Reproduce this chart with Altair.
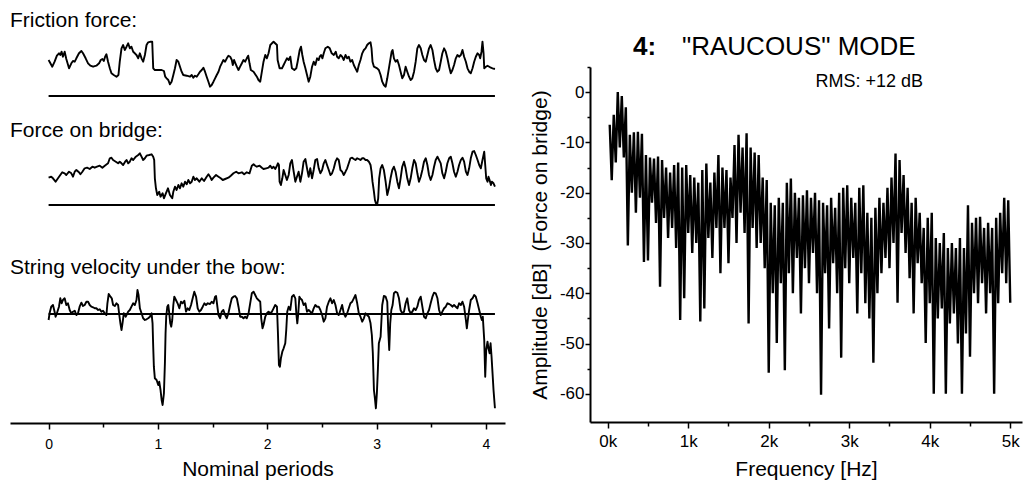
import altair as alt
import pandas as pd

FONT = "Liberation Sans"

# ---------------- left panel: time traces (t in nominal periods, amplitude in arbitrary units) -------------
FRICTION = [
(0.000,36.0),(0.009,34.3),(0.034,29.3),(0.055,34.3),(0.076,40.3),(0.095,42.7),(0.107,41.0),(0.119,44.3),(0.131,39.3),(0.147,44.3),
(0.162,37.0),(0.187,27.7),(0.208,32.7),(0.223,35.0),(0.239,34.3),(0.254,37.7),(0.278,42.7),(0.300,45.0),(0.315,42.7),(0.339,37.7),
(0.361,32.7),(0.382,30.3),(0.407,29.3),(0.437,30.3),(0.462,32.7),(0.477,36.0),(0.492,37.0),(0.505,35.0),(0.517,39.3),(0.529,41.7),
(0.544,34.3),(0.560,27.7),(0.575,22.7),(0.596,21.0),(0.621,19.3),(0.639,21.0),(0.651,34.3),(0.667,47.7),(0.682,51.0),(0.697,46.0),
(0.713,49.3),(0.728,52.7),(0.743,47.7),(0.758,49.3),(0.774,44.3),(0.789,42.7),(0.804,41.0),(0.820,37.7),(0.835,42.7),(0.850,37.7),
(0.865,34.3),(0.881,41.0),(0.896,51.0),(0.911,53.7),(0.933,54.3),(0.948,54.3),(0.957,27.7),(0.972,26.0),(1.003,26.0),(1.034,26.0),
(1.055,25.0),(1.067,19.3),(1.080,17.7),(1.095,16.0),(1.110,11.7),(1.125,14.3),(1.141,21.0),(1.156,27.7),(1.171,36.0),(1.187,34.3),
(1.202,29.3),(1.217,24.3),(1.232,21.0),(1.263,20.3),(1.294,19.3),(1.309,21.0),(1.324,18.3),(1.339,20.3),(1.355,19.3),(1.370,21.7),
(1.385,24.3),(1.401,26.0),(1.416,28.3),(1.431,24.3),(1.446,19.3),(1.462,14.3),(1.477,9.3),(1.492,11.0),(1.508,14.3),(1.523,17.7),
(1.538,21.0),(1.554,24.3),(1.569,29.3),(1.584,32.7),(1.599,36.0),(1.615,34.3),(1.630,37.7),(1.645,40.3),(1.661,39.3),(1.676,36.0),
(1.685,31.0),(1.697,36.0),(1.709,32.7),(1.722,29.3),(1.737,26.0),(1.752,29.3),(1.768,32.7),(1.783,36.0),(1.798,34.3),(1.813,37.7),
(1.826,40.3),(1.838,32.7),(1.850,26.0),(1.875,24.3),(1.905,19.3),(1.920,16.0),(1.936,14.3),(1.951,24.3),(1.966,34.3),(1.982,41.0),
(1.997,37.7),(2.012,42.7),(2.028,51.0),(2.043,52.7),(2.058,54.3),(2.089,51.0),(2.095,36.0),(2.113,27.7),(2.135,27.7),(2.150,31.0),
(2.165,34.3),(2.180,37.7),(2.196,36.0),(2.211,39.3),(2.226,27.7),(2.248,26.0),(2.266,27.7),(2.278,34.3),(2.297,46.0),(2.309,49.3),
(2.321,41.0),(2.333,34.3),(2.349,27.7),(2.364,21.0),(2.379,14.3),(2.394,19.3),(2.410,29.3),(2.425,34.3),(2.440,31.0),(2.456,37.7),
(2.471,36.0),(2.480,39.3),(2.492,41.0),(2.505,37.7),(2.517,42.7),(2.532,47.7),(2.554,49.3),(2.572,47.7),(2.590,42.7),(2.609,41.0),
(2.627,44.3),(2.639,39.3),(2.654,37.7),(2.670,41.0),(2.685,39.3),(2.700,36.0),(2.716,41.0),(2.731,37.7),(2.746,39.3),(2.761,34.3),
(2.777,36.0),(2.792,31.0),(2.807,27.7),(2.823,24.3),(2.838,31.0),(2.853,36.0),(2.869,42.7),(2.884,46.0),(2.899,47.7),(2.914,51.0),
(2.930,52.7),(2.945,53.7),(2.954,47.7),(2.963,34.3),(2.976,29.3),(3.006,27.7),(3.021,26.0),(3.037,21.0),(3.052,14.3),(3.067,11.0),
(3.083,9.3),(3.098,17.7),(3.113,27.7),(3.128,37.7),(3.138,44.3),(3.147,46.0),(3.159,37.7),(3.174,34.3),(3.190,36.0),(3.205,31.0),
(3.220,24.3),(3.235,17.7),(3.251,21.0),(3.266,29.3),(3.281,24.3),(3.297,19.3),(3.312,16.0),(3.327,17.7),(3.343,24.3),(3.358,34.3),
(3.373,47.7),(3.388,51.0),(3.404,47.7),(3.419,41.0),(3.434,36.0),(3.450,34.3),(3.465,41.0),(3.480,47.7),(3.495,51.0),(3.511,46.0),
(3.526,36.0),(3.541,27.7),(3.557,24.3),(3.572,26.0),(3.587,34.3),(3.602,42.7),(3.618,47.7),(3.633,44.3),(3.648,37.7),(3.664,29.3),
(3.679,22.7),(3.694,26.0),(3.709,31.0),(3.725,37.7),(3.740,41.0),(3.755,39.3),(3.771,41.0),(3.786,46.0),(3.801,39.3),(3.817,34.3),
(3.832,27.7),(3.847,24.3),(3.862,22.7),(3.878,27.7),(3.893,34.3),(3.908,39.3),(3.924,42.7),(3.939,41.0),(3.948,37.7),(3.960,44.3),
(3.969,54.3),(3.979,42.7),(3.985,27.7),(4.000,29.3),(4.015,30.3),(4.031,29.3),(4.046,28.3),(4.061,27.7),(4.083,27.0)]

BRIDGE = [
(0.000,27.3),(0.024,28.3),(0.040,26.7),(0.064,23.3),(0.086,26.7),(0.107,30.0),(0.125,32.7),(0.147,31.7),(0.162,30.0),(0.187,33.3),
(0.208,31.7),(0.223,28.3),(0.239,33.3),(0.254,35.0),(0.278,32.7),(0.291,30.7),(0.309,33.3),(0.330,36.7),(0.352,37.3),(0.376,36.0),
(0.401,38.3),(0.422,37.3),(0.443,38.3),(0.468,39.3),(0.492,37.3),(0.514,39.3),(0.544,41.7),(0.560,46.7),(0.575,47.3),(0.590,45.0),
(0.615,43.3),(0.636,41.7),(0.651,43.3),(0.667,41.7),(0.682,40.0),(0.700,43.3),(0.713,45.0),(0.728,41.7),(0.743,43.3),(0.758,46.7),
(0.774,45.0),(0.798,48.3),(0.820,50.0),(0.835,51.7),(0.850,48.3),(0.865,45.0),(0.881,46.7),(0.896,49.3),(0.920,50.0),(0.942,50.7),
(0.957,48.3),(0.966,45.0),(0.972,26.7),(0.982,16.7),(0.994,10.0),(1.012,13.3),(1.024,8.3),(1.043,11.7),(1.055,6.7),(1.073,11.7),
(1.092,16.7),(1.110,10.0),(1.131,6.7),(1.141,13.3),(1.156,18.3),(1.171,15.0),(1.187,20.0),(1.202,16.7),(1.217,21.7),(1.232,18.3),
(1.248,23.3),(1.263,20.7),(1.278,25.0),(1.294,21.7),(1.309,23.3),(1.324,28.3),(1.339,25.0),(1.355,26.7),(1.379,23.3),(1.401,26.7),
(1.422,24.0),(1.446,28.3),(1.462,30.7),(1.477,28.3),(1.492,25.0),(1.508,27.3),(1.532,30.0),(1.554,28.3),(1.575,26.7),(1.593,25.0),
(1.615,26.0),(1.645,27.3),(1.667,29.3),(1.691,31.7),(1.716,33.3),(1.737,31.7),(1.768,32.7),(1.789,30.7),(1.813,32.7),(1.838,31.7),
(1.859,39.3),(1.875,40.7),(1.890,39.3),(1.905,38.3),(1.930,39.3),(1.951,37.3),(1.966,36.0),(1.991,36.7),(2.012,37.3),(2.028,39.3),
(2.043,36.7),(2.058,38.3),(2.073,36.0),(2.089,39.3),(2.098,41.7),(2.107,40.0),(2.113,23.3),(2.125,20.0),(2.138,26.7),(2.150,35.0),
(2.165,30.0),(2.180,25.0),(2.196,30.0),(2.211,41.7),(2.226,45.0),(2.242,33.3),(2.257,23.3),(2.272,28.3),(2.287,33.3),(2.303,23.3),
(2.318,31.7),(2.333,43.3),(2.349,46.0),(2.364,36.7),(2.379,28.3),(2.394,36.7),(2.410,26.7),(2.425,35.0),(2.440,45.0),(2.456,46.0),
(2.471,36.7),(2.486,31.7),(2.502,35.0),(2.517,41.7),(2.532,45.0),(2.547,40.0),(2.563,35.0),(2.578,30.0),(2.593,31.7),(2.609,36.7),
(2.624,43.3),(2.639,46.7),(2.654,45.0),(2.670,35.0),(2.685,33.3),(2.700,30.0),(2.716,33.3),(2.731,36.7),(2.746,41.7),(2.761,46.7),
(2.777,47.3),(2.792,46.0),(2.807,45.0),(2.823,46.7),(2.838,46.0),(2.853,45.0),(2.869,46.7),(2.884,46.7),(2.899,45.0),(2.914,45.0),
(2.930,43.3),(2.945,40.0),(2.954,33.3),(2.963,23.3),(2.976,13.3),(2.985,5.0),(2.994,1.7),(3.006,0.7),(3.015,6.7),(3.024,26.7),
(3.037,36.7),(3.052,40.0),(3.067,35.0),(3.083,23.3),(3.098,10.0),(3.113,16.7),(3.128,26.7),(3.144,35.0),(3.159,38.3),(3.174,33.3),
(3.190,23.3),(3.205,16.7),(3.220,26.7),(3.235,38.3),(3.251,43.3),(3.266,36.7),(3.281,26.7),(3.297,20.0),(3.312,26.7),(3.327,36.7),
(3.343,45.0),(3.358,41.7),(3.373,31.7),(3.388,23.3),(3.404,28.3),(3.419,35.0),(3.434,43.3),(3.450,46.7),(3.465,40.0),(3.480,30.0),
(3.495,25.0),(3.511,30.0),(3.526,38.3),(3.541,45.0),(3.557,48.3),(3.587,41.7),(3.602,31.7),(3.618,26.7),(3.633,33.3),(3.648,41.7),
(3.664,46.7),(3.679,48.3),(3.694,41.7),(3.709,33.3),(3.725,28.3),(3.740,33.3),(3.755,40.0),(3.771,45.0),(3.786,47.3),(3.801,43.3),
(3.817,33.3),(3.832,30.0),(3.847,36.7),(3.862,46.7),(3.878,53.3),(3.893,54.0),(3.908,50.0),(3.924,45.0),(3.939,40.0),(3.954,36.7),
(3.969,45.0),(3.985,53.3),(3.994,40.0),(4.003,26.7),(4.015,23.3),(4.024,28.3),(4.034,25.0),(4.046,20.0),(4.055,23.3),(4.070,21.7),
(4.083,18.3)]

VELOCITY = [
(0.000,-6.0),(0.009,0.7),(0.024,7.3),(0.040,9.0),(0.055,2.3),(0.064,-2.7),(0.076,0.7),(0.095,7.3),(0.107,15.7),(0.119,10.7),
(0.131,14.0),(0.147,15.7),(0.162,9.0),(0.177,10.7),(0.193,4.0),(0.208,0.7),(0.223,2.3),(0.239,3.3),(0.254,-1.0),(0.269,0.7),
(0.284,7.3),(0.300,11.3),(0.315,8.0),(0.330,9.0),(0.346,12.3),(0.361,12.3),(0.376,9.0),(0.391,7.3),(0.407,6.7),(0.422,5.7),
(0.437,5.7),(0.453,4.0),(0.468,4.7),(0.483,2.3),(0.498,3.3),(0.514,0.7),(0.529,-1.0),(0.538,10.7),(0.550,20.0),(0.566,17.3),
(0.578,15.7),(0.590,9.0),(0.606,8.0),(0.621,10.7),(0.636,9.0),(0.645,0.7),(0.657,-9.3),(0.667,-16.0),(0.676,-9.3),(0.688,0.7),
(0.706,-2.7),(0.728,2.3),(0.743,4.0),(0.758,7.3),(0.774,10.7),(0.789,9.0),(0.804,14.0),(0.813,24.0),(0.823,19.0),(0.835,5.7),
(0.850,0.7),(0.865,-4.3),(0.881,-6.0),(0.896,-5.3),(0.911,-4.3),(0.927,-2.7),(0.942,0.7),(0.951,-9.3),(0.957,-32.7),(0.963,-52.7),
(0.972,-64.3),(0.988,-66.0),(1.003,-71.0),(1.012,-67.7),(1.024,-76.0),(1.034,-86.0),(1.043,-91.0),(1.055,-79.3),(1.064,-49.3),(1.070,-19.3),
(1.076,-2.7),(1.086,7.3),(1.095,9.0),(1.104,0.7),(1.113,-9.3),(1.122,-12.7),(1.131,-6.0),(1.141,9.0),(1.150,17.3),(1.165,14.0),
(1.180,10.7),(1.196,5.7),(1.211,12.3),(1.226,10.7),(1.242,13.3),(1.257,2.3),(1.272,5.7),(1.287,4.0),(1.303,9.0),(1.318,15.7),
(1.333,22.3),(1.349,17.3),(1.364,5.7),(1.379,2.3),(1.394,4.0),(1.410,7.3),(1.425,10.7),(1.440,9.0),(1.456,10.7),(1.477,10.0),
(1.492,12.3),(1.508,10.7),(1.523,17.3),(1.532,18.0),(1.544,7.3),(1.554,-1.0),(1.569,-4.3),(1.584,2.3),(1.599,4.0),(1.615,-1.0),
(1.630,-4.3),(1.645,0.7),(1.661,9.0),(1.676,15.7),(1.691,17.3),(1.706,18.0),(1.722,15.7),(1.737,7.3),(1.752,-2.7),(1.768,-2.7),
(1.783,-4.3),(1.798,-2.7),(1.813,-4.3),(1.829,0.7),(1.844,10.7),(1.859,20.7),(1.875,22.3),(1.890,19.0),(1.905,15.7),(1.920,14.0),
(1.936,12.3),(1.945,-4.3),(1.957,-14.3),(1.966,-11.0),(1.982,-2.7),(1.997,0.7),(2.012,2.3),(2.028,0.7),(2.043,2.3),(2.058,5.7),
(2.073,9.0),(2.089,7.3),(2.098,-19.3),(2.107,-51.0),(2.116,-52.7),(2.125,-44.3),(2.138,-37.7),(2.150,-34.3),(2.165,-29.3),(2.174,-16.0),
(2.183,2.3),(2.196,7.3),(2.211,4.0),(2.226,17.3),(2.242,19.0),(2.257,15.7),(2.266,0.7),(2.275,-9.3),(2.284,0.7),(2.294,17.3),
(2.303,15.7),(2.318,14.0),(2.333,9.0),(2.349,10.7),(2.364,2.3),(2.379,4.0),(2.394,2.3),(2.410,0.7),(2.425,5.7),(2.440,9.0),
(2.456,7.3),(2.471,7.3),(2.486,4.0),(2.502,-1.0),(2.517,-7.7),(2.532,-4.3),(2.547,7.3),(2.563,12.3),(2.578,15.7),(2.593,10.7),
(2.609,14.0),(2.624,9.0),(2.639,0.7),(2.654,-1.0),(2.670,4.0),(2.685,9.0),(2.700,0.7),(2.716,-2.7),(2.731,0.7),(2.746,5.7),
(2.761,10.7),(2.777,12.3),(2.792,15.7),(2.807,19.0),(2.823,10.7),(2.838,0.7),(2.853,-2.7),(2.869,-7.7),(2.884,-4.3),(2.899,0.7),
(2.914,-1.0),(2.930,-2.7),(2.945,-9.3),(2.957,-21.0),(2.966,-39.3),(2.976,-76.0),(2.985,-84.3),(2.994,-94.3),(3.003,-79.3),(3.012,-56.0),
(3.021,-29.3),(3.037,-22.7),(3.052,9.0),(3.067,18.0),(3.083,17.3),(3.098,12.3),(3.107,-16.0),(3.116,-36.0),(3.125,-9.3),(3.135,4.0),
(3.147,9.0),(3.159,20.7),(3.174,22.3),(3.190,21.3),(3.205,15.7),(3.220,4.0),(3.235,0.7),(3.251,2.3),(3.266,10.7),(3.281,15.7),
(3.297,4.0),(3.312,0.7),(3.327,2.3),(3.343,5.7),(3.358,4.0),(3.373,7.3),(3.388,14.0),(3.404,17.3),(3.419,7.3),(3.434,-2.7),
(3.450,-4.3),(3.465,0.7),(3.480,4.0),(3.495,10.7),(3.511,17.3),(3.526,21.3),(3.541,20.7),(3.557,15.7),(3.572,4.0),(3.587,-1.0),
(3.602,2.3),(3.618,5.7),(3.633,7.3),(3.648,10.7),(3.664,10.0),(3.679,9.0),(3.694,7.3),(3.709,9.0),(3.725,7.3),(3.740,5.7),
(3.755,10.7),(3.771,9.0),(3.786,12.3),(3.801,7.3),(3.817,-6.0),(3.826,-14.3),(3.835,-6.0),(3.847,4.0),(3.862,14.0),(3.878,15.7),
(3.893,19.0),(3.908,17.3),(3.924,10.7),(3.939,4.0),(3.954,-2.7),(3.963,-6.0),(3.972,-2.7),(3.985,-26.0),(3.994,-62.7),(4.003,-36.0),
(4.015,-27.7),(4.024,-34.3),(4.034,-39.3),(4.043,-29.3),(4.052,-42.7),(4.061,-59.3),(4.070,-76.0),(4.083,-94.3)]

TRACE_START = 0.0
TRACE_END = 4.083
PERIOD_TICKS = [0, 1, 2, 3, 4]
PERIOD_MINOR = [0.5, 1.5, 2.5, 3.5]
TRACE_LABELS = ["Friction force:", "Force on bridge:", "String velocity under the bow:"]

# ---------------- right panel: spectrum (25 Hz bins, alternating local max / min readings) ----------------
SPEC_BIN_HZ = 25
SPEC_DB = [
-6.5,-17.5, -4.5,-14.0, 0.0,-11.0, -0.8,-13.0, -3.0,-30.5, -8.5,-20.0, -8.0,-24.0, -7.9,-21.0, -8.3,-33.8, -12.5,-33.5,
-13.0,-22.0, -13.2,-26.0, -12.8,-38.7, -13.5,-25.0, -15.0,-29.0, -16.0,-27.0, -14.5,-31.0, -14.0,-45.3, -15.0,-41.0, -14.5,-28.0,
-16.5,-32.0, -17.0,-30.0, -18.0,-45.6, -15.5,-43.0, -14.2,-29.0, -18.0,-33.0, -16.0,-27.0, -12.5,-36.0, -15.0,-27.0, -15.5,-34.0,
-17.0,-25.0, -10.5,-30.0, -8.5,-24.0, -11.0,-28.0, -8.2,-46.0, -11.0,-27.0, -12.0,-31.0, -12.5,-30.0, -17.0,-35.0, -17.5,-55.8,
-22.0,-40.0, -22.5,-49.9, -21.0,-38.0, -22.0,-55.3, -18.0,-36.0, -17.2,-40.0, -20.0,-33.0, -21.0,-44.0, -20.5,-35.0, -19.5,-38.0,
-21.0,-32.0, -20.0,-40.0, -21.5,-60.2, -22.0,-36.0, -22.5,-47.0, -21.0,-34.0, -23.0,-40.0, -20.0,-52.8, -19.0,-35.0, -18.5,-38.0,
-21.0,-33.0, -22.0,-44.0, -19.0,-36.0, -18.5,-42.0, -24.0,-45.0, -25.0,-53.8, -23.0,-40.0, -21.0,-36.0, -22.0,-33.0, -19.0,-35.0,
-17.0,-30.0, -12.2,-41.9, -13.5,-28.0, -16.5,-32.0, -19.0,-37.0, -22.0,-44.0, -21.0,-34.0, -24.0,-38.0, -27.0,-49.9, -25.0,-42.0,
-24.0,-60.0, -29.0,-45.0, -30.0,-43.0, -28.0,-60.0, -31.0,-46.0, -30.0,-44.0, -31.0,-50.0, -29.0,-60.0, -31.0,-48.0, -22.5,-52.6,
-26.0,-40.0, -25.0,-42.0, -24.8,-38.0, -27.0,-44.0, -26.0,-40.0, -27.0,-60.0, -25.0,-42.0, -24.0,-36.0, -21.0,-38.0, -21.5,-41.9]

FREQ_TICKS = [0, 1000, 2000, 3000, 4000, 5000]
FREQ_MINOR = [500, 1500, 2500, 3500, 4500]
DB_TICKS = [0, -10, -20, -30, -40, -50, -60]
DB_MINOR = [5, -5, -15, -25, -35, -45, -55]

# ---------------- scales (domain -> pixel range inside the 1026x485 canvas) ----------------
LX = alt.Scale(domain=[-0.353, 4.175], range=[10, 505], nice=False, zero=False)
FY = alt.Scale(domain=[0, 61], range=[96, 35], nice=False, zero=False)
BY = alt.Scale(domain=[0, 60], range=[205, 145], nice=False, zero=False)
VY = alt.Scale(domain=[-100, 34], range=[414, 280], nice=False, zero=False)
RX = alt.Scale(domain=[-220, 5146], range=[590, 1022], nice=False, zero=False)
RY = alt.Scale(domain=[-65.6, 5], range=[422, 67], nice=False, zero=False)

AX = dict(domainColor="black", tickColor="black", labelColor="black", titleColor="black",
          labelFont=FONT, titleFont=FONT, grid=False, labelFlush=False, labelOverlap=False,
          titleFontWeight="normal")


def pairs_df(pairs):
    return pd.DataFrame({"i": list(range(len(pairs))),
                         "t": [p[0] for p in pairs],
                         "v": [p[1] for p in pairs]})


def trace(pairs, yscale):
    return alt.Chart(pairs_df(pairs)).mark_line(color="black", strokeWidth=1.9,
                                                strokeJoin="round").encode(
        x=alt.X("t:Q", scale=LX, axis=None),
        y=alt.Y("v:Q", scale=yscale, axis=None),
        order=alt.Order("i:Q"),
    )


def baseline(yscale):
    df = pd.DataFrame({"t0": [TRACE_START], "t1": [TRACE_END], "v": [0]})
    return alt.Chart(df).mark_rule(color="black", strokeWidth=2).encode(
        x=alt.X("t0:Q", scale=LX, axis=None), x2="t1:Q",
        y=alt.Y("v:Q", scale=yscale, axis=None),
    )


one = pd.DataFrame({"a": [0]})


def label(text, x, y, size=21, weight="normal", align="left"):
    return alt.Chart(one).mark_text(text=text, font=FONT, fontSize=size, fontWeight=weight,
                                     align=align, baseline="alphabetic", color="black").encode(
        x=alt.value(x), y=alt.value(y))


left_axis = alt.Chart(pd.DataFrame({"t": PERIOD_TICKS})).mark_point(opacity=0).encode(
    x=alt.X("t:Q", scale=LX, axis=alt.Axis(
        orient="bottom", offset=-62, values=PERIOD_TICKS, labelExpr="'' + datum.value",
        title="Nominal periods", tickSize=6, tickWidth=1.5, domainWidth=2,
        labelFontSize=14, labelPadding=8, titleFontSize=21, titlePadding=7, **AX)))

left_minor = alt.Chart(pd.DataFrame({"t": PERIOD_MINOR})).mark_point(opacity=0).encode(
    x=alt.X("t:Q", scale=LX, axis=alt.Axis(
        orient="bottom", offset=-62, values=PERIOD_MINOR, labels=False, domain=False,
        tickSize=4, tickWidth=1.5, title=None, **AX)))

spec_df = pd.DataFrame({"i": list(range(len(SPEC_DB))),
                        "f": [SPEC_BIN_HZ * (k + 1) for k in range(len(SPEC_DB))],
                        "db": SPEC_DB})

spectrum = alt.Chart(spec_df).mark_line(color="black", strokeWidth=2.4, strokeJoin="miter").encode(
    x=alt.X("f:Q", scale=RX, axis=alt.Axis(
        orient="bottom", offset=-63, values=FREQ_TICKS, labelExpr="(datum.value / 1000) + 'k'",
        title="Frequency [Hz]", tickSize=6, tickWidth=1.5, domainWidth=2,
        labelFontSize=17, labelPadding=5, titleFontSize=21, titlePadding=9, **AX)),
    y=alt.Y("db:Q", scale=RY, axis=alt.Axis(
        orient="left", offset=-590, values=DB_TICKS, labelExpr="'' + datum.value",
        title="Amplitude [dB]\u00a0\u00a0(Force on bridge)", tickSize=5, tickWidth=1.5, domainWidth=2,
        labelFontSize=17, labelPadding=1, titleFontSize=21, titlePadding=9, **AX)),
    order=alt.Order("i:Q"),
)

minor_x = alt.Chart(pd.DataFrame({"f": FREQ_MINOR})).mark_point(opacity=0).encode(
    x=alt.X("f:Q", scale=RX, axis=alt.Axis(
        orient="bottom", offset=-63, values=FREQ_MINOR, labels=False, domain=False,
        tickSize=4, tickWidth=1.5, title=None, **AX)))

minor_y = alt.Chart(pd.DataFrame({"db": DB_MINOR})).mark_point(opacity=0).encode(
    y=alt.Y("db:Q", scale=RY, axis=alt.Axis(
        orient="left", offset=-590, values=DB_MINOR, labels=False, domain=False,
        tickSize=3, tickWidth=1.5, title=None, **AX)))

layers = [
    trace(FRICTION, FY), baseline(FY),
    trace(BRIDGE, BY), baseline(BY),
    trace(VELOCITY, VY), baseline(VY),
    left_axis, left_minor,
    label(TRACE_LABELS[0], 10, 27), label(TRACE_LABELS[1], 10, 137), label(TRACE_LABELS[2], 10, 274),
    spectrum, minor_x, minor_y,
    label("4:", 633, 55, size=26, weight="bold"),
    label("\"RAUCOUS\" MODE", 682, 55, size=26),
    label("RMS: +12 dB", 923, 87, size=18, align="right"),
]

chart = alt.layer(*layers).resolve_scale(x="independent", y="independent").properties(
    width=1026, height=485, autosize=alt.AutoSizeParams(type="none"), padding=0,
    background="white",
).configure_view(stroke=None)

chart.save("out.html", embed_options={"renderer": "svg", "actions": False})
